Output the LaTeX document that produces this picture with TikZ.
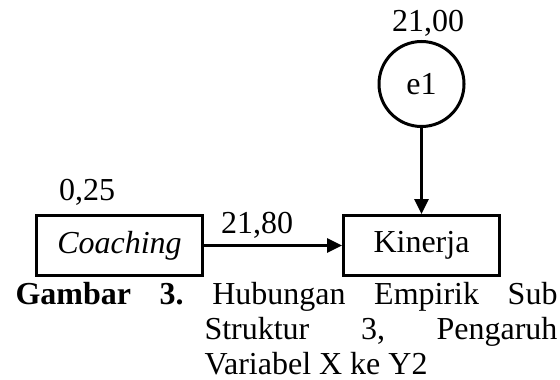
\documentclass[tikz,border=0pt]{standalone}
\usepackage{fontspec}
\setmainfont{Liberation Serif}
\usetikzlibrary{arrows.meta, positioning}

\begin{document}
\begin{tikzpicture}[->, >={Triangle[length=7.5pt,width=7pt]}, line width=1.5pt,
    x=0.5pt, y=-0.5pt, font=\fontsize{16pt}{17.5pt}\selectfont]
  \useasboundingbox (0,0) rectangle (560,379);
  \node[rectangle, draw, minimum width=83pt, minimum height=30pt, inner sep=0pt] (coach) at (119.5,245.5) {\textit{Coaching}};
  \node[rectangle, draw, minimum width=78pt, minimum height=30pt, inner sep=0pt, right=69pt of coach] (kin) {Kinerja};
  \node[circle, draw, minimum size=42.5pt, inner sep=0pt, above=43pt of kin] (e1) {e1};
  \node[anchor=base, inner sep=0pt] (vcoach) at (87,200) {0,25};
  \node[anchor=base, inner sep=0pt] (ve1) at (428,32) {21,00};
  \node[anchor=base, inner sep=0pt] (pcoach) at (257,233) {21,80};
  \draw (coach) -- (kin);
  \draw (e1) -- (kin);
  \node[anchor=base west, inner sep=0pt, text width=271pt, align=justify] (cap) at (14,304)
    {\frenchspacing\hangindent=94.5pt\hangafter=1\textbf{Gambar 3.}\ Hubungan Empirik Sub\linebreak
     Struktur 3, Pengaruh\linebreak Variabel X ke Y2\par};
\end{tikzpicture}
\end{document}
